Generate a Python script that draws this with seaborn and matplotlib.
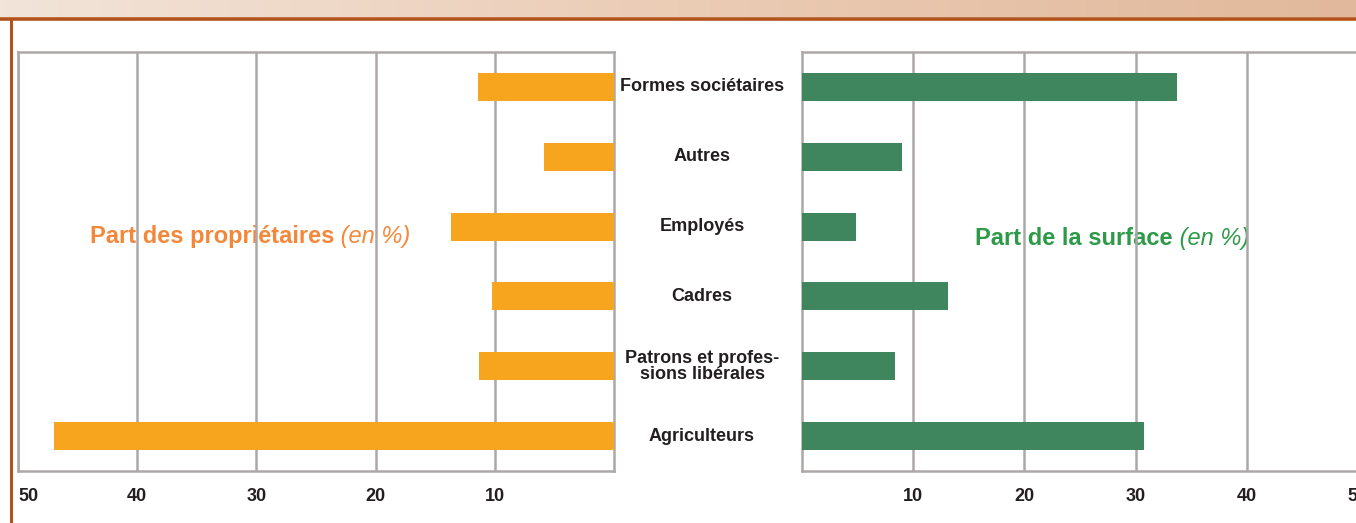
import numpy as np
import matplotlib
matplotlib.use("Agg")
import matplotlib.pyplot as plt
import matplotlib.transforms as mtrans
from matplotlib.lines import Line2D
from matplotlib.colors import LinearSegmentedColormap
import seaborn as sns

categories = ["Formes sociétaires", "Autres", "Employés", "Cadres",
              "Patrons et profes-\nsions libérales", "Agriculteurs"]
part_proprietaires = [11.4, 5.9, 13.7, 10.2, 11.3, 47.0]
part_surface = [33.7, 9.0, 4.9, 13.1, 8.4, 30.8]
left_ticks = [50, 40, 30, 20, 10]
right_ticks = [10, 20, 30, 40, 50]

sns.set_theme(style="white")
plt.rcParams["font.family"] = ["Liberation Sans", "DejaVu Sans"]

W, H = 1356, 523
fig = plt.figure(figsize=(W / 100, H / 100), dpi=100)

ORANGE = "#F7A51E"
GREEN = "#3F855D"
GRID = "#ADA8A8"
TXT = "#231F20"

# header gradient band
band = fig.add_axes([0, 1 - 17 / H, 1, 17 / H])
grad = np.linspace(0, 1, 256).reshape(1, -1)
cmap = LinearSegmentedColormap.from_list("band", ["#F2E4D9", "#EBCCB5", "#E1B89B"])
band.imshow(grad, aspect="auto", cmap=cmap, extent=[0, 1, 0, 1])
band.set_axis_off()
fig.add_artist(Line2D([0, 1], [1 - 18.5 / H, 1 - 18.5 / H], transform=fig.transFigure,
                      color="#B3531B", lw=2.6))
fig.add_artist(Line2D([11 / W, 11 / W], [0, 1 - 18.5 / H], transform=fig.transFigure,
                      color="#B3531B", lw=2.2))

top, bot = 52, 471
axL = fig.add_axes([18 / W, 1 - bot / H, (614 - 18) / W, (bot - top) / H])
axR = fig.add_axes([802 / W, 1 - bot / H, (1358 - 802) / W, (bot - top) / H])

sns.barplot(x=part_proprietaires, y=categories, ax=axL, color=ORANGE,
            width=0.4, saturation=1, orient="h")
sns.barplot(x=part_surface, y=categories, ax=axR, color=GREEN,
            width=0.4, saturation=1, orient="h")

for ax in (axL, axR):
    ax.set_ylim(5.5, -0.5)
    ax.set_ylabel("")
    ax.set_xlabel("")
    ax.set_yticks([])
    ax.set_axisbelow("line")
    ax.grid(axis="x", color=GRID, lw=1.8)
    ax.grid(axis="y", visible=False)
    for s in ax.spines.values():
        s.set_color(GRID)
        s.set_linewidth(1.8)
    for p in ax.patches:
        p.set_zorder(3)
        p.set_edgecolor("none")
    ax.tick_params(axis="x", length=0, pad=12, labelsize=13, colors=TXT)

axL.set_xlim(50, 0)
axL.set_xticks(left_ticks)
axL.set_xticklabels([str(t) for t in left_ticks], fontweight="bold")
axL.get_xticklabels()[0].set_horizontalalignment("left")
axR.set_xlim(0, 50)
axR.set_xticks(right_ticks)
axR.set_xticklabels([str(t) for t in right_ticks], fontweight="bold")

# category labels in the middle
tr = mtrans.blended_transform_factory(fig.transFigure, axL.transData)
for i, c in enumerate(categories):
    fig.text(702 / W, i, c, transform=tr, ha="center", va="center",
             fontsize=13, fontweight="bold", color=TXT, linespacing=0.95)

# panel titles
t1 = axL.text(0.121, 0.545, "Part des propriétaires", transform=axL.transAxes,
              fontsize=17, fontweight="bold", color="#F3883A", va="baseline", zorder=1)
axL.annotate(" (en %)", xy=(1, 0), xycoords=t1, va="bottom", ha="left",
             fontsize=17, fontstyle="italic", color="#F3883A", zorder=1,
             annotation_clip=False)
t2 = axR.text(0.312, 0.540, "Part de la surface", transform=axR.transAxes,
              fontsize=17, fontweight="bold", color="#2E9A48", va="baseline", zorder=1)
axR.annotate(" (en %)", xy=(1, 0), xycoords=t2, va="bottom", ha="left",
             fontsize=17, fontstyle="italic", color="#2E9A48", zorder=1,
             annotation_clip=False)

fig.savefig("out.png", dpi=100)
